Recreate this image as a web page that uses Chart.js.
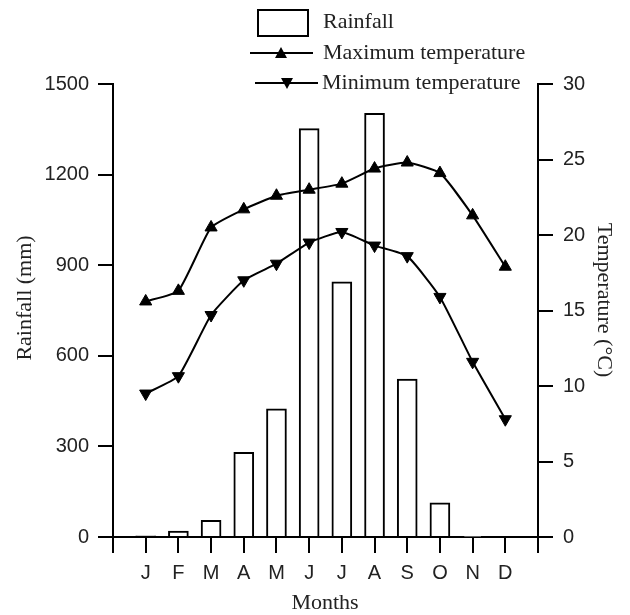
<!DOCTYPE html>
<html>
<head>
<meta charset="utf-8">
<script src="https://cdn.jsdelivr.net/npm/chart.js@4/dist/chart.umd.min.js"></script>
<style>
  html, body { margin: 0; padding: 0; background: #fff; }
</style>
</head>
<body>
<canvas id="climate" width="630" height="615"></canvas>
<script>
const months = ['J', 'F', 'M', 'A', 'M', 'J', 'J', 'A', 'S', 'O', 'N', 'D'];
const rainfall = [4, 20, 55, 280, 424, 1352, 845, 1403, 523, 113, 2, 0];
const maxTemp = [15.6, 16.3, 20.5, 21.7, 22.6, 23.0, 23.4, 24.4, 24.8, 24.1, 21.3, 17.9];
const minTemp = [9.5, 10.65, 14.7, 17.0, 18.1, 19.5, 20.2, 19.3, 18.6, 15.9, 11.6, 7.8];
const rainTicks = [0, 300, 600, 900, 1200, 1500];
const tempTicks = [0, 5, 10, 15, 20, 25, 30];

const SANS = "'Liberation Sans', Arial, sans-serif";
const SERIF = "'Liberation Serif', 'Times New Roman', serif";

function toPoints(arr) {
    return arr.map((v, i) => ({ x: i + 1, y: v }));
}

// legend + axis titles drawn by hand
const decorations = {
    id: 'decorations',
    afterDraw(chart) {
        const ctx = chart.ctx;
        ctx.save();
        ctx.fillStyle = '#222';
        ctx.strokeStyle = '#000';
        ctx.lineWidth = 2;
        ctx.font = '22px ' + SERIF;
        ctx.textBaseline = 'middle';
        ctx.textAlign = 'left';

        // rainfall box
        ctx.strokeRect(258, 10, 50, 26);
        ctx.fillText('Rainfall', 323, 22);

        // max temperature
        ctx.beginPath();
        ctx.moveTo(250, 53); ctx.lineTo(313, 53); ctx.stroke();
        ctx.fillStyle = '#000';
        ctx.beginPath();
        ctx.moveTo(281, 47); ctx.lineTo(287, 58); ctx.lineTo(275, 58); ctx.closePath(); ctx.fill();
        ctx.fillStyle = '#222';
        ctx.fillText('Maximum temperature', 323, 53);

        // min temperature
        ctx.beginPath();
        ctx.moveTo(255, 83); ctx.lineTo(318, 83); ctx.stroke();
        ctx.fillStyle = '#000';
        ctx.beginPath();
        ctx.moveTo(287, 89); ctx.lineTo(293, 78); ctx.lineTo(281, 78); ctx.closePath(); ctx.fill();
        ctx.fillStyle = '#222';
        ctx.fillText('Minimum temperature', 322, 83);

        // axis titles
        ctx.font = '22px ' + SERIF;
        ctx.textAlign = 'center';
        ctx.fillText('Months', 325, 603);

        ctx.save();
        ctx.translate(25, 298);
        ctx.rotate(-Math.PI / 2);
        ctx.fillText('Rainfall (mm)', 0, 0);
        ctx.restore();

        ctx.save();
        ctx.translate(604, 300);
        ctx.rotate(Math.PI / 2);
        ctx.fillText('Temperature (°C)', 0, 0);
        ctx.restore();

        ctx.restore();
    }
};

const axisGrid = {
    drawOnChartArea: false,
    drawTicks: true,
    offset: false,
    tickLength: 15,
    tickColor: '#000',
    tickWidth: 2,
    color: '#000',
    lineWidth: 2
};

const lineStyle = {
    type: 'line',
    yAxisID: 'yTemp',
    borderColor: '#000',
    borderWidth: 2,
    tension: 0.15,
    pointStyle: 'triangle',
    pointRadius: 7,
    pointBackgroundColor: '#000',
    pointBorderColor: '#000',
    pointBorderWidth: 1,
    order: 1
};

const config = {
    data: {
        datasets: [
            {
                type: 'bar',
                label: 'Rainfall',
                data: toPoints(rainfall),
                yAxisID: 'yRain',
                backgroundColor: '#fff',
                borderColor: '#000',
                borderWidth: 2,
                barThickness: 20,
                order: 2
            },
            { ...lineStyle, label: 'Maximum temperature', data: toPoints(maxTemp) },
            { ...lineStyle, label: 'Minimum temperature', data: toPoints(minTemp), rotation: 180 }
        ]
    },
    options: {
        responsive: false,
        animation: false,
        events: [],
        layout: { padding: { top: 84, left: 0, right: 0, bottom: 0 } },
        plugins: {
            legend: { display: false },
            tooltip: { enabled: false }
        },
        scales: {
            x: {
                type: 'linear',
                offset: false,
                min: 0,
                max: months.length + 1,
                grid: { ...axisGrid, tickLength: 16 },
                border: { display: true, color: '#000', width: 2 },
                afterFit(scale) { scale.height = 78; },
                afterBuildTicks(scale) {
                    scale.ticks = [];
                    for (let i = 0; i <= months.length + 1; i++) scale.ticks.push({ value: i });
                },
                ticks: {
                    autoSkip: false,
                    maxRotation: 0,
                    padding: 8,
                    color: '#222',
                    font: { family: SANS, size: 20 },
                    callback: (v) => months[v - 1] || ''
                }
            },
            yRain: {
                type: 'linear',
                position: 'left',
                min: rainTicks[0],
                max: rainTicks[rainTicks.length - 1],
                grid: axisGrid,
                border: { display: true, color: '#000', width: 2 },
                afterFit(scale) { scale.width = 113; },
                afterBuildTicks(scale) { scale.ticks = rainTicks.map(v => ({ value: v })); },
                ticks: {
                    padding: 9,
                    color: '#222',
                    font: { family: SANS, size: 20 },
                    callback: (v) => String(v)
                }
            },
            yTemp: {
                type: 'linear',
                position: 'right',
                min: tempTicks[0],
                max: tempTicks[tempTicks.length - 1],
                grid: axisGrid,
                border: { display: true, color: '#000', width: 2 },
                afterFit(scale) { scale.width = 92; },
                afterBuildTicks(scale) { scale.ticks = tempTicks.map(v => ({ value: v })); },
                ticks: {
                    padding: 10,
                    color: '#222',
                    font: { family: SANS, size: 20 },
                    callback: (v) => String(v)
                }
            }
        }
    },
    plugins: [decorations]
};

new Chart(document.getElementById('climate'), config);
</script>
</body>
</html>
